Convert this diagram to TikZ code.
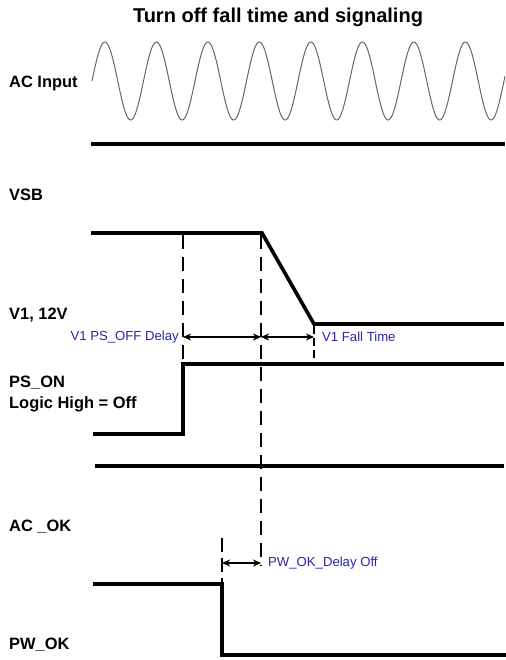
\documentclass[tikz,border=0pt]{standalone}
\usepackage{fontspec}
\setmainfont{Liberation Sans}
\usetikzlibrary{arrows.meta}
\definecolor{lblue}{RGB}{40,40,160}
\tikzset{
  sig/.style={line width=3.6bp, line cap=rect, line join=miter},
  guide/.style={line width=1.3bp, dash pattern=on 14bp off 8bp},
  dim/.style={line width=1.5bp, {Stealth[length=8bp,width=7bp,inset=2.5bp]}-{Stealth[length=8bp,width=7bp,inset=2.5bp]}},
  lab/.style={anchor=west, inner sep=0pt, font=\fontsize{16.5}{19}\selectfont\bfseries},
  note/.style={inner sep=0pt, text=lblue, font=\fontsize{13.2}{16}\selectfont},
}
\begin{document}
\begin{tikzpicture}[x=1bp,y=-1bp]
\useasboundingbox (0,0) rectangle (506,660);
\node[inner sep=0pt, font=\fontsize{20.1}{24}\selectfont\bfseries] (title) at (278,17) {Turn off fall time and signaling};
% labels
\node[lab] (lac) at (9,83) {AC Input};
\node[lab] (lvsb) at (9,195) {VSB};
\node[lab] (lv1) at (9,315) {V1, 12V};
\node[lab] (lps) at (9,383) {PS\_ON};
\node[lab] (lpsb) at (9,404) {Logic High = Off};
\node[lab] (lacok) at (9,527) {AC \_OK};
\node[lab] (lpw) at (9,645) {PW\_OK};
% AC input sine
\draw[line width=1bp, draw=black!60] plot[domain=0:413, samples=400] ({92+\x},{81-39*sin(\x/51.5*360)});
\coordinate (ac0) at (93,144); \coordinate (ac1) at (503,144);
\draw[sig] (ac0) -- (ac1);
% VSB / V1
\coordinate (v0) at (93,233); \coordinate (v1) at (262,233);
\coordinate (v2) at (314,324); \coordinate (v3) at (502,324);
\draw[sig] (v0) -- (v1) -- (v2) -- (v3);
% PS_ON
\coordinate (p0) at (95,434); \coordinate (p1) at (183,434);
\coordinate (p2) at (183,364); \coordinate (p3) at (502,364);
\draw[sig] (p0) -- (p1) -- (p2) -- (p3);
% AC_OK line
\coordinate (a0) at (97,466); \coordinate (a1) at (502,466);
\draw[sig] (a0) -- (a1);
% PW_OK
\coordinate (w0) at (95,584); \coordinate (w1) at (222,584);
\coordinate (w2) at (222,655); \coordinate (w3) at (504,655);
\draw[sig] (w0) -- (w1) -- (w2) -- (w3);
% guides
\coordinate (g1t) at (183,235); \coordinate (g1b) at (183,364);
\coordinate (g2t) at (261,235); \coordinate (g2b) at (261,566);
\coordinate (g3t) at (314,326); \coordinate (g3b) at (314,364);
\coordinate (g4t) at (222,538); \coordinate (g4b) at (222,584);
\draw[guide] (g1t) -- (g1b);
\draw[guide] (g2t) -- (g2b);
\draw[guide, dash pattern=on 8bp off 4bp] (g3t) -- (g3b);
\draw[guide, dash pattern=on 14bp off 6bp] (g4t) -- (g4b);
% dimension arrows
\coordinate (d1) at (183,337); \coordinate (d2) at (261,337); \coordinate (d3) at (314,337);
\draw[dim] (d1) -- (d2);
\draw[dim] (d2) -- (d3);
\coordinate (e1) at (222,563); \coordinate (e2) at (261,563);
\draw[dim] (e1) -- (e2);
\node[note, anchor=east] (n1) at (179,337) {V1 PS\_OFF Delay};
\node[note, anchor=west] (n2) at (322,337) {V1 Fall Time};
\node[note, anchor=west] (n3) at (268,563) {PW\_OK\_Delay Off};
\end{tikzpicture}
\end{document}
